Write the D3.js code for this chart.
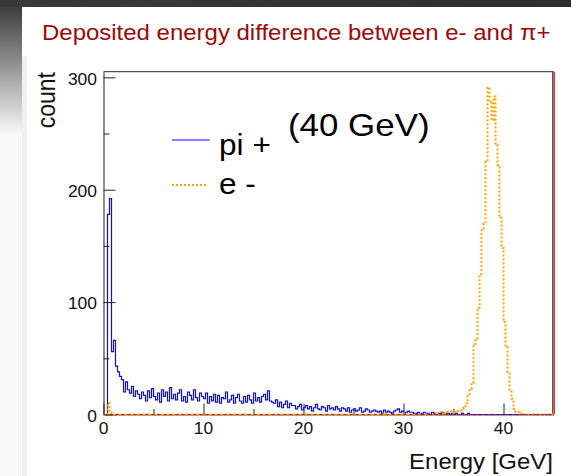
<!DOCTYPE html>
<html><head><meta charset="utf-8">
<script src="https://cdn.jsdelivr.net/npm/d3@7"></script>
<style>
body{margin:0;background:#fff;}
svg{display:block;}
text{font-family:"Liberation Sans",Arial,Helvetica,sans-serif;}
</style>
</head><body>
<svg id="c" width="571" height="476"></svg>
<script>
// ---- data ----
const binWidth = 0.2;           // GeV per bin, 0..45 GeV => 225 bins
const xDomain = [0, 45];
const yDomain = [0, 305];
const xMajorTicks = [0, 10, 20, 30, 40];
const xMinorTicks = [5, 15, 25, 35];
const yMajorTicks = [0, 100, 200, 300];
const yMinorTicks = [50, 150, 250];
const legendLabels = ["pi +", "e -"];
const energyNote = "(40 GeV)";
const titleText = "Deposited energy difference between e- and \u03c0+";
const xTitle = "Energy [GeV]";
const yTitle = "count";

const pionCounts = [
  0,0,178,192,56,66,43,38,34,31,20,29,22,19,25,16,21,18,14,20,
  17,12,21,15,23,16,13,19,11,22,16,20,12,24,14,18,13,19,22,12,16,11,20,17,13,22,15,12,19,16,
  14,19,10,16,12,18,11,17,10,15,14,20,11,13,17,10,15,18,12,10,16,11,17,13,10,19,12,15,11,16,
  18,13,21,12,11,
  10,13,7,11,6,9,12,6,10,8,
  8,5,7,9,4,6,8,5,7,3,6,9,5,4,7,6,3,8,5,6,4,7,5,3,6,
  5,3,6,2,4,5,3,4,6,2,3,5,4,2,3,4,3,
  2,3,1,4,2,3,2,1,3,4,5,2,3,1,2,3,2,
  2,1,1,2,0,1,2,1,1,0,2,1,0,1,1,2,0,1,1,0,1,0,1,0,0,
  1,0,0,1,0,0,0,0,0,0,0,0,0,0,0,0,0,0,0,0,0,0,0,0,0,0,0,0,0,0,0,0,0,0,0,0,0,0,0,0,0,0,0,0,0,0
];

const electronCounts = [
  0,0,10,2,0,0,0,0,0,0,0,0,0,0,0,0,0,0,0,0,
  0,0,0,0,0,0,0,0,0,0,0,0,0,0,0,0,0,0,0,0,0,0,0,0,0,0,0,0,0,0,
  0,0,0,0,0,0,0,0,0,0,0,0,0,0,0,0,0,0,0,0,0,0,0,0,0,0,0,0,0,0,
  0,0,0,0,0,0,0,0,0,0,0,0,0,0,0,0,0,0,0,0,1,0,0,0,0,0,0,0,0,0,
  0,0,0,0,0,0,0,0,0,0,0,0,0,0,0,0,0,0,0,0,0,0,0,0,0,0,0,0,0,0,
  1,0,0,0,0,0,0,0,0,0,1,0,0,0,0,
  0,0,0,0,0,1,0,0,0,0,
  1,0,1,2,1,2,1,2,3,2,1,2,3,
  3,5,6,10,18,23,28,63,66,95,125,165,170,225,291,278,262,283,240,222,175,148,82,60,38,22,14,5,2,2,1,
  0,0,0,0,0,0,0,0,0,0,0,0,0,0,0,0
];

// ---- layout ----
const svg = d3.select("#c");
const W = 571, H = 476;
const plot = {left: 103.5, right: 553.5, top: 71.7, bottom: 414.5};
const stretch = 1.09;

const x = d3.scaleLinear().domain(xDomain).range([plot.left, plot.right]);
const y = d3.scaleLinear().domain(yDomain).range([plot.bottom, plot.top]);

// background decoration
const defs = svg.append("defs");
const lg = defs.append("linearGradient").attr("id","lg")
  .attr("gradientUnits","userSpaceOnUse").attr("x1",0).attr("y1",0).attr("x2",0).attr("y2",135);
lg.append("stop").attr("offset",0).attr("stop-color","#333");
lg.append("stop").attr("offset",0.45).attr("stop-color","#8c8c8c");
lg.append("stop").attr("offset",1).attr("stop-color","#fafafa");
const tg = defs.append("linearGradient").attr("id","tg").attr("x1",0).attr("x2",1).attr("y1",0).attr("y2",0);
tg.append("stop").attr("offset",0).attr("stop-color","#3a3a3a");
tg.append("stop").attr("offset",1).attr("stop-color","#2e2e2e");
svg.append("rect").attr("x",0).attr("y",0).attr("width",W).attr("height",H).attr("fill","#fff");
svg.append("rect").attr("x",0).attr("y",0).attr("width",22).attr("height",H).attr("fill","url(#lg)");
svg.append("rect").attr("x",0).attr("y",0).attr("width",W).attr("height",7).attr("fill","url(#tg)");
svg.append("rect").attr("x",22).attr("y",56).attr("width",5).attr("height",H-56).attr("fill","#f0f0f0");

function txt(px, py, str, size, anchor, color, rot) {
  const g = svg.append("g").attr("transform",
    `translate(${px},${py})` + (rot ? ` rotate(${rot})` : "") + (rot ? ` scale(1,${stretch})` : ` scale(${stretch},1)`));
  return g.append("text").attr("x",0).attr("y",0)
    .attr("font-size",size).attr("text-anchor",anchor||"start").attr("fill",color||"#000").text(str);
}

// title
txt(42, 39.5, titleText, 22, "start", "#a00808");

// frame
svg.append("line").attr("x1",plot.left).attr("x2",plot.right).attr("y1",plot.top).attr("y2",plot.top)
  .attr("stroke","#555").attr("stroke-width",1.2);
svg.append("line").attr("x1",plot.right-0.8).attr("x2",plot.right-0.8).attr("y1",plot.top).attr("y2",plot.bottom)
  .attr("stroke","#333").attr("stroke-width",1);
svg.append("line").attr("x1",plot.right+0.6).attr("x2",plot.right+0.6).attr("y1",plot.top).attr("y2",plot.bottom)
  .attr("stroke","#e02424").attr("stroke-width",1.6);

// axes (ticks inward)
svg.append("g").attr("transform",`translate(${plot.left},0)`)
  .call(d3.axisLeft(y).tickValues(yMajorTicks).tickSizeInner(-12).tickSizeOuter(0).tickFormat(""));
svg.append("g").attr("transform",`translate(${plot.left},0)`)
  .call(d3.axisLeft(y).tickValues(yMinorTicks).tickSizeInner(-6).tickSizeOuter(0).tickFormat(""))
  .select(".domain").remove();
svg.append("g").attr("transform",`translate(0,${plot.bottom})`)
  .call(d3.axisBottom(x).tickValues(xMajorTicks).tickSizeInner(-11).tickSizeOuter(0).tickFormat(""));
svg.append("g").attr("transform",`translate(0,${plot.bottom})`)
  .call(d3.axisBottom(x).tickValues(xMinorTicks).tickSizeInner(-5.5).tickSizeOuter(0).tickFormat(""))
  .select(".domain").remove();
svg.selectAll(".domain").attr("stroke","#444").attr("stroke-width",1.2);
svg.selectAll(".tick line").attr("stroke","#222").attr("stroke-width",1);

// tick labels
yMajorTicks.forEach(v => {
  txt(97, v === 0 ? 421.5 : y(v) + 7.2, String(v), 16, "end", "#111");
});
xMajorTicks.forEach(v => {
  txt(x(v), 434, String(v), 16, "middle", "#111");
});

// axis titles
txt(553, 469, xTitle, 22, "end", "#111");
txt(55, 72, yTitle, 23, "end", "#111", -90);

// histograms
function stepPoints(counts) {
  const pts = counts.map((c,i) => [i*binWidth, c]);
  pts.push([counts.length*binWidth, counts[counts.length-1]]);
  return pts;
}
const line = d3.line().x(d => x(d[0])).y(d => y(d[1])).curve(d3.curveStepAfter);

svg.append("path").datum(stepPoints(pionCounts)).attr("d", line)
  .attr("fill","none").attr("stroke","#0a0aff").attr("stroke-width",1.2);
svg.append("path").datum(stepPoints(electronCounts)).attr("d", line)
  .attr("fill","none").attr("stroke","#ffa500").attr("stroke-width",2).attr("stroke-dasharray","2,2");
// zero-level red dashed reference (third, empty histogram)
svg.append("path").datum(stepPoints(electronCounts.map(()=>0))).attr("d", line)
  .attr("fill","none").attr("stroke","#d01818").attr("stroke-width",1.2).attr("stroke-dasharray","3,3");

// legend
svg.append("line").attr("x1",172).attr("x2",210).attr("y1",140).attr("y2",140)
  .attr("stroke","#0a0aff").attr("stroke-width",1.2);
svg.append("line").attr("x1",172).attr("x2",208).attr("y1",185).attr("y2",185)
  .attr("stroke","#ffa500").attr("stroke-width",2).attr("stroke-dasharray","2,2");
txt(219, 155, legendLabels[0], 29, "start", "#000");
txt(219, 194, legendLabels[1], 29, "start", "#000");
txt(288, 136, energyNote, 32, "start", "#000");
</script>
</body></html>
